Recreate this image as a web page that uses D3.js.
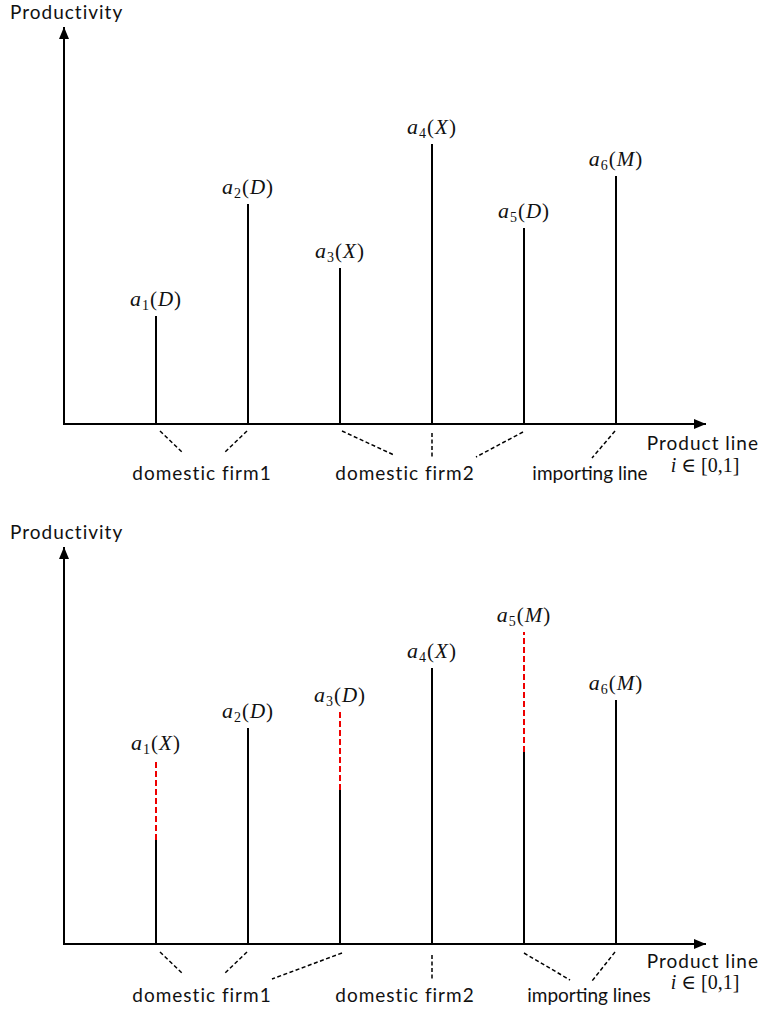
<!DOCTYPE html>
<html><head><meta charset="utf-8">
<script src="https://cdn.jsdelivr.net/npm/d3@7"></script>
<style>html,body{margin:0;padding:0;background:#fff;}svg{display:block;}</style>
</head><body>
<script>
// ---- data ----
const categories = ["a1","a2","a3","a4","a5","a6"];
const subs = ["1","2","3","4","5","6"];
const topModes = ["D","D","X","X","D","M"];
const topValues = [0.27,0.55,0.39,0.70,0.49,0.62];
const bottomModes = ["X","D","D","X","M","M"];
const bottomBase = [0.26,0.54,0.385,0.69,0.48,0.61];
const bottomNew = [0.46,0.54,0.58,0.69,0.78,0.61];
const topGroups = [
  {label:"domestic firm1", members:[0,1]},
  {label:"domestic firm2", members:[2,3,4]},
  {label:"importing line", members:[5]}
];
const bottomGroups = [
  {label:"domestic firm1", members:[0,1,2]},
  {label:"domestic firm2", members:[3]},
  {label:"importing lines", members:[4,5]}
];

const W=764,H=1013;
const svg=d3.select("body").append("svg").attr("width",W).attr("height",H);
const defs=svg.append("defs");
defs.append("marker").attr("id","arr").attr("viewBox","0 0 12 10").attr("refX",12).attr("refY",5)
 .attr("markerWidth",12).attr("markerHeight",10).attr("markerUnits","userSpaceOnUse").attr("orient","auto")
 .append("path").attr("d","M0,0L12,5L0,10Z").attr("fill","#000");

const x=d3.scalePoint().domain(categories).range([156,616]);
const sansFont="Lato, 'Open Sans', sans-serif";
const mathFont="'Liberation Serif','DejaVu Serif',serif";
function sans(sel,ls){return sel.attr("font-family",sansFont).attr("font-size",19).attr("letter-spacing",ls==null?1:ls).attr("fill","#111");}

function panel(o){
  const y=d3.scaleLinear().domain([0,1]).range([o.axisY,o.axisY-400]);
  const g=svg.append("g");
  // axes
  g.append("line").attr("x1",64).attr("x2",64).attr("y1",o.axisY+1).attr("y2",o.yTip)
   .attr("stroke","#000").attr("stroke-width",2).attr("marker-end","url(#arr)");
  g.append("line").attr("x1",63).attr("x2",706).attr("y1",o.axisY).attr("y2",o.axisY)
   .attr("stroke","#000").attr("stroke-width",2).attr("marker-end","url(#arr)");
  sans(g.append("text").attr("x",10).attr("y",o.yTip-8)).text("Productivity");
  // bars
  categories.forEach((c,i)=>{
    const base=o.base[i], nv=o.newv?o.newv[i]:base;
    g.append("line").attr("x1",x(c)).attr("x2",x(c)).attr("y1",o.axisY).attr("y2",y(base))
      .attr("stroke","#000").attr("stroke-width",2);
    if(nv>base){
      g.append("line").attr("x1",x(c)).attr("x2",x(c)).attr("y1",y(base)).attr("y2",y(nv))
        .attr("stroke","#ee0000").attr("stroke-width",2).attr("stroke-dasharray","6,3");
    }
    const t=g.append("text").attr("x",x(c)).attr("y",y(Math.max(base,nv))-10)
      .attr("text-anchor","middle").attr("font-family",mathFont).attr("font-size",21).attr("letter-spacing",1).attr("fill","#111");
    t.append("tspan").attr("font-style","italic").attr("font-size",22).text("a");
    t.append("tspan").attr("font-size",14).attr("dy",4).text(subs[i]);
    t.append("tspan").attr("dy",-4).text("(");
    t.append("tspan").attr("font-style","italic").text(o.modes[i]);
    t.append("tspan").text(")");
  });
  // connectors
  o.connectors.forEach(cn=>{
    g.append("line").attr("x1",x(categories[cn.i])+cn.dx).attr("y1",o.axisY+cn.y0)
     .attr("x2",cn.tx).attr("y2",o.axisY+cn.y1)
     .attr("stroke","#000").attr("stroke-width",1.5).attr("stroke-dasharray","4,2.5");
  });
  o.groups.forEach((gr,k)=>{
    sans(g.append("text").attr("x",o.labelX[k]).attr("y",o.axisY+o.ly).attr("text-anchor","middle"),
      gr.label.startsWith("importing")?0:1).text(gr.label);
  });
  sans(g.append("text").attr("x",759).attr("y",o.axisY+o.py).attr("text-anchor","end")).text("Product line");
  const t2=g.append("text").attr("x",705).attr("y",o.axisY+o.iy).attr("text-anchor","middle")
   .attr("font-family",mathFont).attr("font-size",20).attr("fill","#111");
  t2.append("tspan").attr("font-style","italic").text("i");
  t2.append("tspan").text(" ∈ [0,1]");
}

panel({axisY:424,yTip:27,base:topValues,modes:topModes,groups:topGroups,
  labelX:[202,405,590],ly:56,py:26,iy:48,
  connectors:[
    {i:0,dx:4,y0:7,tx:182,y1:28},
    {i:1,dx:-1,y0:7,tx:225,y1:28},
    {i:2,dx:2,y0:7,tx:394,y1:31},
    {i:3,dx:0,y0:9,tx:432,y1:33},
    {i:4,dx:-1,y0:8,tx:476,y1:33},
    {i:5,dx:-1,y0:7,tx:592,y1:34}
  ]});
panel({axisY:944,yTip:547,base:bottomBase,newv:bottomNew,modes:bottomModes,groups:bottomGroups,
  labelX:[202,405,589],ly:58,py:24,iy:45,
  connectors:[
    {i:0,dx:4,y0:8,tx:182,y1:29},
    {i:1,dx:-1,y0:8,tx:225,y1:29},
    {i:2,dx:2,y0:9,tx:272,y1:35},
    {i:3,dx:0,y0:11,tx:432,y1:35},
    {i:4,dx:0,y0:9,tx:570,y1:36},
    {i:5,dx:-1,y0:8,tx:592,y1:37}
  ]});
</script>
</body></html>
